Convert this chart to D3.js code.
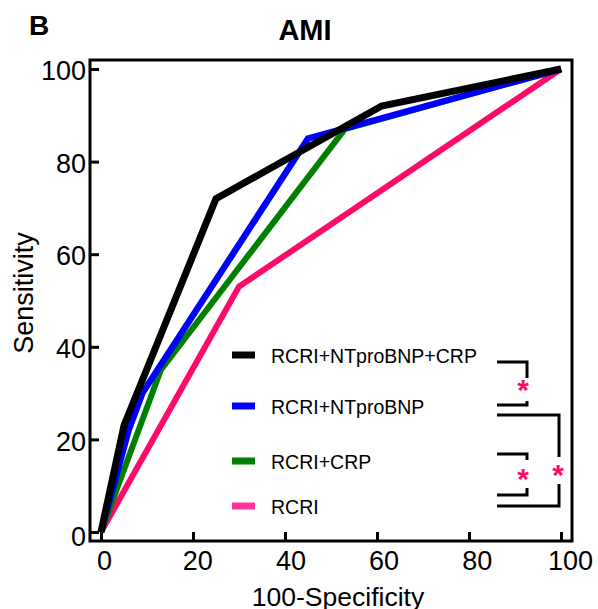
<!DOCTYPE html>
<html>
<head>
<meta charset="utf-8">
<script src="https://cdn.jsdelivr.net/npm/d3@7"></script>
<style>
  body { margin: 0; background: #fff; }
  text { font-family: Arial, "Liberation Sans", sans-serif; }
</style>
</head>
<body>
<div id="chart"></div>
<script>
// ROC points (100-specificity, sensitivity)
var seriesNames = ["RCRI", "RCRI+CRP", "RCRI+NTproBNP", "RCRI+NTproBNP+CRP"];
var rcriX = [0, 30, 100];
var rcriY = [0, 53, 100];
var crpX = [0, 13, 53, 100];
var crpY = [0, 35, 87, 100];
var bnpX = [0, 6, 9, 45, 100];
var bnpY = [0, 22, 30, 85, 100];
var allX = [0, 5, 25, 61, 100];
var allY = [0, 23, 72, 92, 100];
var tickValues = [0, 20, 40, 60, 80, 100];
var lineColors = ["#ff0a6a", "#007f00", "#0000ff", "#000000"];
var swatchColors = ["#ff3399", "#007f00", "#0000ff", "#000000"];
var legendOrder = [3, 2, 1, 0];

var w = 598, h = 609;

var svg = d3.select("#chart").append("svg")
    .attr("width", w)
    .attr("height", h);

var x = d3.scaleLinear().domain([0, 100]).range([101, 561]);
var y = d3.scaleLinear().domain([0, 100]).range([532, 69]);

// frame box
svg.append("rect")
    .attr("x", 90).attr("y", 60)
    .attr("width", 572 - 90).attr("height", 541 - 60)
    .attr("fill", "none")
    .attr("stroke", "#000")
    .attr("stroke-width", 3);

// axes with inward ticks
var xAxis = svg.append("g")
    .attr("transform", "translate(0,541)")
    .call(d3.axisBottom(x).tickValues(tickValues).tickSize(-9));
var yAxis = svg.append("g")
    .attr("transform", "translate(90,0)")
    .call(d3.axisLeft(y).tickValues(tickValues).tickSize(-9));

[xAxis, yAxis].forEach(function(g) {
    g.select(".domain").remove();
    g.selectAll(".tick line").attr("stroke", "#000").attr("stroke-width", 3);
    g.selectAll(".tick text")
        .attr("font-family", "Arial, 'Liberation Sans', sans-serif")
        .attr("font-size", "27px")
        .attr("fill", "#000");
});
// labels in the source sit a little right of / below their ticks
xAxis.selectAll(".tick text")
    .attr("y", 10)
    .attr("dy", "0.71em")
    .attr("x", function(d) { return 3 + d * 0.06; });
yAxis.selectAll(".tick text")
    .attr("x", -4)
    .attr("y", function(d) { return d === 0 ? 5 : 2; });

// ROC lines
var series = [
    { xs: rcriX, ys: rcriY, w: 6 },
    { xs: crpX, ys: crpY, w: 6 },
    { xs: bnpX, ys: bnpY, w: 6.5 },
    { xs: allX, ys: allY, w: 7 }
];
var line = d3.line()
    .x(function(d) { return x(d[0]); })
    .y(function(d) { return y(d[1]); });

series.forEach(function(s, i) {
    var pts = s.xs.map(function(v, j) { return [v, s.ys[j]]; });
    svg.append("path")
        .datum(pts)
        .attr("d", line)
        .attr("fill", "none")
        .attr("stroke", lineColors[i])
        .attr("stroke-width", s.w)
        .attr("stroke-linejoin", "miter");
});

// legend
var legendY = [355, 406, 461, 506];
var legend = svg.selectAll("g.leg")
    .data(legendOrder)
    .enter()
    .append("g")
    .attr("class", "leg")
    .attr("transform", function(d, i) { return "translate(0," + legendY[i] + ")"; });
legend.append("line")
    .attr("x1", 232).attr("x2", 255)
    .attr("stroke", function(d) { return swatchColors[d]; })
    .attr("stroke-width", 7);
legend.append("text")
    .attr("x", 271)
    .attr("y", 8)
    .attr("font-size", "19.5px")
    .attr("fill", "#000")
    .text(function(d) { return seriesNames[d]; });

// significance brackets
function bracket(x0, x1, yTop, yBot, gapTop, gapBot) {
    var p = "M" + x0 + "," + yTop + "H" + x1 + "V" + gapTop +
            "M" + x1 + "," + gapBot + "V" + yBot + "H" + x0;
    svg.append("path")
        .attr("d", p)
        .attr("fill", "none")
        .attr("stroke", "#000")
        .attr("stroke-width", 3);
}
bracket(497, 527, 362, 405, 378, 401);
bracket(497, 559, 415, 506, 457, 484);
bracket(497, 527, 454, 495, 460, 488);

var stars = [[523, 383], [523, 472], [558, 468]];
svg.selectAll("text.star")
    .data(stars)
    .enter()
    .append("text")
    .attr("class", "star")
    .attr("x", function(d) { return d[0]; })
    .attr("y", function(d) { return d[1] + 17; })
    .attr("text-anchor", "middle")
    .attr("font-size", "30px")
    .attr("font-weight", "bold")
    .attr("fill", "#ff0a6a")
    .text("*");

// titles
svg.append("text")
    .attr("x", 29).attr("y", 35)
    .attr("font-size", "28px")
    .attr("font-weight", "bold")
    .text("B");
svg.append("text")
    .attr("x", 305).attr("y", 40)
    .attr("text-anchor", "middle")
    .attr("font-size", "29px")
    .attr("font-weight", "bold")
    .text("AMI");
svg.append("text")
    .attr("x", 338).attr("y", 606)
    .attr("text-anchor", "middle")
    .attr("font-size", "26.5px")
    .text("100-Specificity");
svg.append("text")
    .attr("transform", "translate(33,293) rotate(-90)")
    .attr("text-anchor", "middle")
    .attr("font-size", "27px")
    .text("Sensitivity");
</script>
</body>
</html>
